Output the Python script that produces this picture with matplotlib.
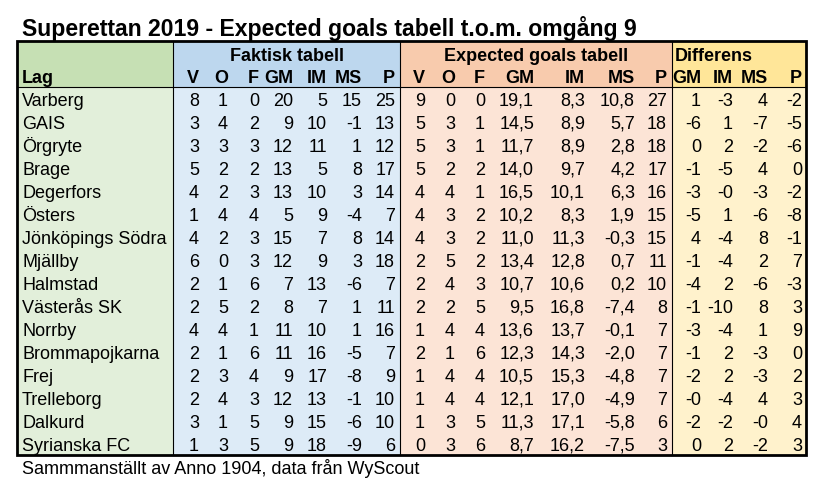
import matplotlib.pyplot as plt
from matplotlib.patches import Rectangle

plt.rcParams['font.family'] = ['Liberation Sans', 'DejaVu Sans']

### DATA ###
title = 'Superettan 2019 - Expected goals tabell t.o.m. omgång 9'
footer = 'Sammmanställt av Anno 1904, data från WyScout'

lag = ['Varberg', 'GAIS', 'Örgryte', 'Brage', 'Degerfors', 'Östers',
       'Jönköpings Södra', 'Mjällby', 'Halmstad', 'Västerås SK', 'Norrby',
       'Brommapojkarna', 'Frej', 'Trelleborg', 'Dalkurd', 'Syrianska FC']

fak_cols = ['V', 'O', 'F', 'GM', 'IM', 'MS', 'P']
fak_V = [8, 3, 3, 5, 4, 1, 4, 6, 2, 2, 4, 2, 2, 2, 3, 1]
fak_O = [1, 4, 3, 2, 2, 4, 2, 0, 1, 5, 4, 1, 3, 4, 1, 3]
fak_F = [0, 2, 3, 2, 3, 4, 3, 3, 6, 2, 1, 6, 4, 3, 5, 5]
fak_GM = [20, 9, 12, 13, 13, 5, 15, 12, 7, 8, 11, 11, 9, 12, 9, 9]
fak_IM = [5, 10, 11, 5, 10, 9, 7, 9, 13, 7, 10, 16, 17, 13, 15, 18]
fak_MS = [15, -1, 1, 8, 3, -4, 8, 3, -6, 1, 1, -5, -8, -1, -6, -9]
fak_P = [25, 13, 12, 17, 14, 7, 14, 18, 7, 11, 16, 7, 9, 10, 10, 6]

exp_cols = ['V', 'O', 'F', 'GM', 'IM', 'MS', 'P']
exp_V = [9, 5, 5, 5, 4, 4, 4, 2, 2, 2, 1, 2, 1, 1, 1, 0]
exp_O = [0, 3, 3, 2, 4, 3, 3, 5, 4, 2, 4, 1, 4, 4, 3, 3]
exp_F = [0, 1, 1, 2, 1, 2, 2, 2, 3, 5, 4, 6, 4, 4, 5, 6]
exp_GM = [19.1, 14.5, 11.7, 14.0, 16.5, 10.2, 11.0, 13.4, 10.7, 9.5, 13.6, 12.3, 10.5, 12.1, 11.3, 8.7]
exp_IM = [8.3, 8.9, 8.9, 9.7, 10.1, 8.3, 11.3, 12.8, 10.6, 16.8, 13.7, 14.3, 15.3, 17.0, 17.1, 16.2]
exp_MS = [10.8, 5.7, 2.8, 4.2, 6.3, 1.9, -0.3, 0.7, 0.2, -7.4, -0.1, -2.0, -4.8, -4.9, -5.8, -7.5]
exp_P = [27, 18, 18, 17, 16, 15, 15, 11, 10, 8, 7, 7, 7, 7, 6, 3]

dif_cols = ['GM', 'IM', 'MS', 'P']
dif_GM = ['1', '-6', '0', '-1', '-3', '-5', '4', '-1', '-4', '-1', '-3', '-1', '-2', '-0', '-2', '0']
dif_IM = ['-3', '1', '2', '-5', '-0', '1', '-4', '-4', '2', '-10', '-4', '2', '2', '-4', '-2', '2']
dif_MS = ['4', '-7', '-2', '4', '-3', '-6', '8', '2', '-6', '8', '1', '-3', '-3', '4', '-0', '-2']
dif_P = ['-2', '-5', '-6', '0', '-2', '-8', '-1', '7', '-3', '3', '9', '0', '2', '3', '4', '3']

def dec(v):
    return ('%.1f' % v).replace('.', ',')

fak_data = [fak_V, fak_O, fak_F, fak_GM, fak_IM, fak_MS, fak_P]
exp_data = [exp_V, exp_O, exp_F, [dec(v) for v in exp_GM], [dec(v) for v in exp_IM],
            [dec(v) for v in exp_MS], exp_P]
dif_data = [dif_GM, dif_IM, dif_MS, dif_P]

### LAYOUT (pixels) ###
x0, x_lag, x_fak, x_exp, x1 = 17, 173, 400, 672, 806
y0, y_head, row_h = 41, 87, 23
y1 = y_head + row_h * len(lag)
fak_right = [199, 228, 259, 293, 327, 362, 395]
exp_right = [425, 455, 485, 534, 585, 635, 667]
dif_right = [701, 733, 768, 802]
fs = 13

fig = plt.figure(figsize=(8.3, 4.98), dpi=100)
ax = fig.add_axes([0, 0, 1, 1])
ax.set_xlim(0, 830)
ax.set_ylim(498, 0)
ax.axis('off')

sections = [(x0, x_lag, '#c6e0b4', '#e2efda'),
            (x_lag, x_fak, '#bdd7ee', '#ddebf7'),
            (x_fak, x_exp, '#f8cbad', '#fce4d6'),
            (x_exp, x1, '#ffe699', '#fff2cc')]
for a, b, c_head, c_body in sections:
    ax.add_patch(Rectangle((a, y0), b - a, y_head - y0, color=c_head, lw=0))
    ax.add_patch(Rectangle((a, y_head), b - a, y1 - y_head, color=c_body, lw=0))

# lines
for x in [x_lag, x_fak, x_exp]:
    ax.plot([x, x], [y0, y1], color='black', lw=0.8)
ax.plot([x0, x1], [y_head, y_head], color='black', lw=0.8)
ax.add_patch(Rectangle((x0, y0), x1 - x0, y1 - y0, fill=False, ec='black', lw=2))

### TEXT ###
ax.text(22, 35.5, title, fontsize=16.6, fontweight='bold', va='baseline')
ax.text(22, 83, 'Lag', fontsize=fs, fontweight='bold', va='baseline')
ax.text((x_lag + x_fak) / 2, 61, 'Faktisk tabell', fontsize=fs, fontweight='bold', ha='center', va='baseline')
ax.text((x_fak + x_exp) / 2, 61, 'Expected goals tabell', fontsize=fs, fontweight='bold', ha='center', va='baseline')
ax.text(x_exp + 3, 61, 'Differens', fontsize=fs, fontweight='bold', va='baseline')

for cols, rights in [(fak_cols, fak_right), (exp_cols, exp_right), (dif_cols, dif_right)]:
    for name, xr in zip(cols, rights):
        ax.text(xr, 83, name, fontsize=fs, fontweight='bold', ha='right', va='baseline')

for i, team in enumerate(lag):
    yb = y_head + row_h * i + 18.5
    ax.text(22, yb, team, fontsize=fs, va='baseline')
    for data, rights in [(fak_data, fak_right), (exp_data, exp_right), (dif_data, dif_right)]:
        for col, xr in zip(data, rights):
            ax.text(xr, yb, str(col[i]), fontsize=fs, ha='right', va='baseline')

ax.text(22, 474, footer, fontsize=fs, va='baseline')

fig.savefig('out.png', dpi=100)
